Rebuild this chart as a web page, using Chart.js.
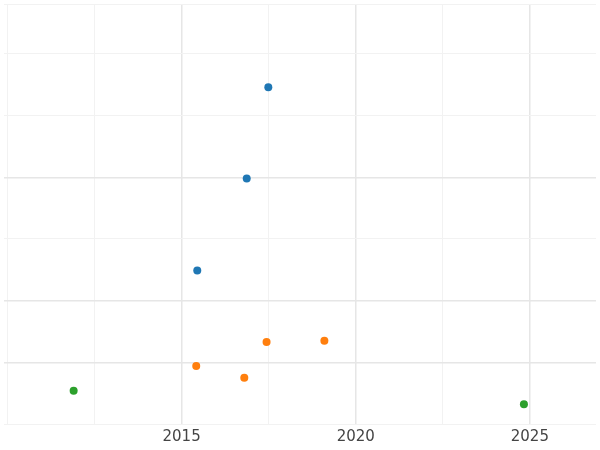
<!DOCTYPE html>
<html>
<head>
<meta charset="utf-8">
<script src="https://cdn.jsdelivr.net/npm/chart.js@4"></script>
<style>
  html, body { margin: 0; padding: 0; background: #fff; }
  #wrap { width: 600px; height: 450px; }
</style>
</head>
<body>
<div id="wrap"><canvas id="chart"></canvas></div>
<script>
// data
const blueX = [2017.49, 2016.87, 2015.45]
const blueY = [5.46, 3.98, 2.49]
const orangeX = [2017.44, 2019.1, 2015.42, 2016.8]
const orangeY = [1.33, 1.35, 0.94, 0.75]
const greenX = [2011.9, 2024.83]
const greenY = [0.54, 0.32]
const xTicks = [2010, 2012.5, 2015, 2017.5, 2020, 2022.5, 2025]
const majorYears = [2015, 2020, 2025]
const majorY = [1, 2, 4]

const pts = (xs, ys) => xs.map((x, i) => ({ x: x, y: ys[i] }))

const ctx = document.getElementById('chart').getContext('2d')
new Chart(ctx, {
    type: 'scatter',
    data: {
        datasets: [
            { data: pts(blueX, blueY), backgroundColor: '#1f77b4', borderColor: '#1f77b4' },
            { data: pts(orangeX, orangeY), backgroundColor: '#ff7f0e', borderColor: '#ff7f0e' },
            { data: pts(greenX, greenY), backgroundColor: '#2ca02c', borderColor: '#2ca02c' },
        ],
    },
    options: {
        responsive: true,
        maintainAspectRatio: false,
        animation: false,
        layout: { padding: { left: -6, right: -6, top: -4, bottom: 0 } },
        elements: { point: { radius: 4, borderWidth: 0 } },
        plugins: { legend: { display: false }, tooltip: { enabled: false } },
        scales: {
            x: {
                type: 'linear',
                min: 2009.9,
                max: 2026.9,
                border: { display: false },
                afterBuildTicks: (axis) => { axis.ticks = xTicks.map((v) => ({ value: v })) },
                grid: {
                    drawTicks: false,
                    color: (c) => majorYears.includes(c.tick && c.tick.value) ? '#e6e6e6' : '#f2f2f2',
                    lineWidth: (c) => majorYears.includes(c.tick && c.tick.value) ? 1.5 : 1,
                },
                ticks: {
                    autoSkip: false,
                    maxRotation: 0,
                    padding: 4,
                    color: '#444',
                    font: { family: 'DejaVu Sans', size: 15 },
                    callback: (v) => majorYears.includes(v) ? String(v) : '',
                },
            },
            y: {
                min: 0,
                max: 6.81,
                border: { display: false },
                grid: {
                    drawTicks: false,
                    color: (c) => majorY.includes(c.tick && c.tick.value) ? '#e6e6e6' : '#f2f2f2',
                    lineWidth: (c) => majorY.includes(c.tick && c.tick.value) ? 1.5 : 1,
                },
                ticks: { display: false, stepSize: 1 },
            },
        },
    },
})
</script>
</body>
</html>
